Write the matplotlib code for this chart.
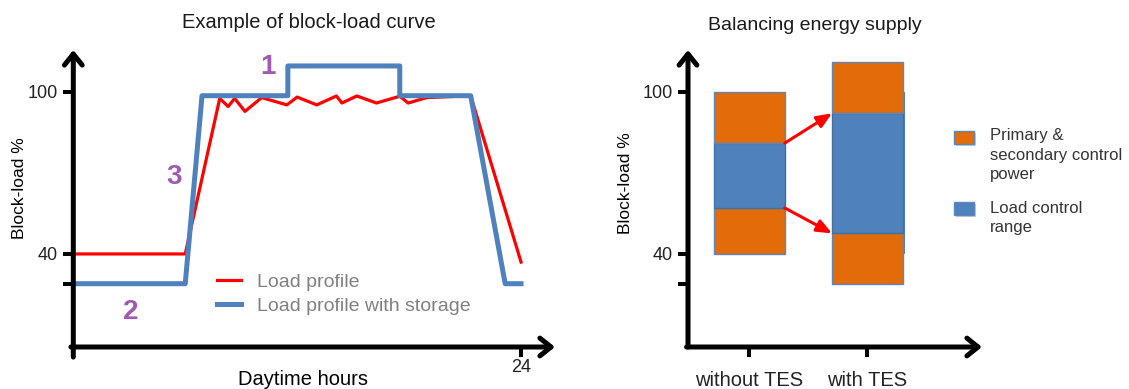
import numpy as np
import matplotlib.pyplot as plt
from matplotlib.patches import Rectangle

plt.rcParams['font.family'] = ['Liberation Sans', 'DejaVu Sans']

# Left panel: block-load curve over the day (hours, % block-load)
hours_storage = [0, 6.0, 6.9, 11.5, 11.5, 17.5, 17.5, 21.3, 23.15, 24]
load_storage = [29, 29, 98.5, 98.5, 109.5, 109.5, 98.5, 98.5, 29, 29]

hours_load = [0, 6.0, 7.85, 8.3, 8.65, 9.2, 10.1, 11.45, 12.0, 13.05, 14.1,
              14.4, 15.2, 16.25, 17.5, 17.95, 18.95, 21.3, 24]
load_profile = [40, 40, 97.5, 94.5, 97.5, 92.7, 97.8, 95.1, 98.0, 95.1, 98.4,
                95.8, 98.4, 95.8, 98.3, 95.8, 97.8, 98.5, 37]

# numbered annotations (hour, %)
marker_text = ['1', '3', '2']
marker_x = [10.45, 5.4, 3.1]
marker_y = [109, 68.5, 18.5]

# Right panel: balancing energy supply
cases = ['without TES', 'with TES']
reserve_low_bottom = [40, 29]
control_bottom = [57, 47.6]
control_top = [81, 92]
reserve_high_top = [100, 111]

red = '#FF0000'
blue = '#4F81BD'
orange = '#E26B0A'
purple = '#A05AB4'

fig = plt.figure(figsize=(11.29, 3.89), dpi=100)
W, H = 1129, 389


def axis_arrows(ax, below=0.0):
    kw = dict(arrowstyle='->,head_length=0.5,head_width=0.4', lw=3.6,
              color='black', shrinkA=0, shrinkB=0, mutation_scale=16)
    ax.annotate('', xy=(0, 1), xytext=(0, -below), xycoords='axes fraction',
                arrowprops=kw, annotation_clip=False)
    ax.annotate('', xy=(1, 0), xytext=(-0.005, 0), xycoords='axes fraction',
                arrowprops=kw, annotation_clip=False)
    for s in ax.spines.values():
        s.set_visible(False)
    ax.tick_params(direction='out', length=7, width=2.9, labelsize=13,
                   colors='black', labelcolor='#222222')


# ---- left chart ----
ax1 = fig.add_axes([73.3 / W, 42 / H, 481.7 / W, 297 / H])
ax1.plot(hours_load, load_profile, color=red, lw=2.3, label='Load profile')
ax1.plot(hours_storage, load_storage, color=blue, lw=3.6,
         label='Load profile with storage')
ax1.set_xlim(0, 25.82)
ax1.set_ylim(5.6, 115.4)
ax1.set_xticks([24])
ax1.set_xticklabels(['24'])
ax1.set_yticks([29, 40, 100])
ax1.set_yticklabels(['', '40', '100'])
axis_arrows(ax1, below=0.034)
ax1.tick_params(axis='x', pad=1.5)
ax1.tick_params(axis='y', pad=4)

for t, x, y in zip(marker_text, marker_x, marker_y):
    ax1.text(x, y, t, color=purple, fontsize=20, fontweight='bold',
             ha='center', va='center')

ax1.set_title('Example of block-load curve', fontsize=14.5, x=0.489,
              y=1.091, va='center', color='#1a1a1a', pad=0)
ax1.set_ylabel('Block-load %', fontsize=12.5, va='center')
ax1.yaxis.set_label_coords(-0.111, 0.535)
ax1.set_xlabel('Daytime hours', fontsize=14.5, va='center')
ax1.xaxis.set_label_coords(0.477, -0.111)

leg = ax1.legend(loc='upper left', bbox_to_anchor=((217 - 73.3) / 481.7, (347 - 273) / 297),
                 frameon=False, fontsize=14, handlelength=1.25, handletextpad=0.82,
                 labelspacing=0.33, borderpad=0, borderaxespad=0,
                 labelcolor='#808080')

# ---- right chart ----
ax2 = fig.add_axes([688 / W, 42 / H, 294 / W, 297 / H])
pos = np.arange(1, len(cases) + 1)
bw = 0.6
low_h = np.array(control_bottom) - np.array(reserve_low_bottom)
mid_h = np.array(control_top) - np.array(control_bottom)
high_h = np.array(reserve_high_top) - np.array(control_top)

ax2.bar(pos[1] + 0.02, 60, bottom=40, width=bw, color=blue)
ax2.bar(pos, low_h, bottom=reserve_low_bottom, width=bw, color=orange,
        edgecolor='#5b86c0', lw=1)
ax2.bar(pos, mid_h, bottom=control_bottom, width=bw, color=blue,
        edgecolor='#41719c', lw=1)
ax2.bar(pos, high_h, bottom=control_top, width=bw, color=orange,
        edgecolor='#5b86c0', lw=1)

for vals in (control_top, control_bottom):
    ax2.annotate('', xy=(pos[1] - bw / 2, vals[1]), xytext=(pos[0] + bw / 2, vals[0]),
                 arrowprops=dict(arrowstyle='-|>,head_length=0.6,head_width=0.25',
                                 color=red, lw=2.2, shrinkA=0, shrinkB=0,
                                 mutation_scale=15))

ax2.set_xlim(0.48, 2.97)
ax2.set_ylim(5.6, 115.4)
ax2.set_xticks(pos)
ax2.set_xticklabels(cases, fontsize=14.5)
ax2.set_yticks([29, 40, 100])
ax2.set_yticklabels(['', '40', '100'])
axis_arrows(ax2)
ax2.tick_params(axis='x', pad=10, labelsize=14.5)
ax2.tick_params(axis='y', pad=4)

ax2.set_title('Balancing energy supply', fontsize=14, x=0.432, y=1.081,
              va='center', color='#1a1a1a', pad=0)
ax2.set_ylabel('Block-load %', fontsize=12.5, va='center')
ax2.yaxis.set_label_coords(-0.211, 0.552)

# legend for the right chart
legend_labels = ['Primary &\nsecondary control\npower', 'Load control\nrange']
legend_colors = [orange, blue]
patch_top = [131, 202]
text_center = [155, 218]
for lab, col, pt, tc in zip(legend_labels, legend_colors, patch_top, text_center):
    fig.add_artist(Rectangle(((954 + 2) / W, 1 - (pt + 13 + 2) / H), 20 / W, 13 / H,
                             transform=fig.transFigure, facecolor='#b0b0b0',
                             edgecolor='none', alpha=0.6))
    fig.add_artist(Rectangle((954 / W, 1 - (pt + 13) / H), 20 / W, 13 / H,
                             transform=fig.transFigure, facecolor=col,
                             edgecolor='#5b86c0', lw=1))
    fig.text(990 / W, 1 - tc / H, lab, fontsize=12, color='#333333',
             ha='left', va='center', linespacing=1.38)

fig.savefig('out.png', dpi=100)
